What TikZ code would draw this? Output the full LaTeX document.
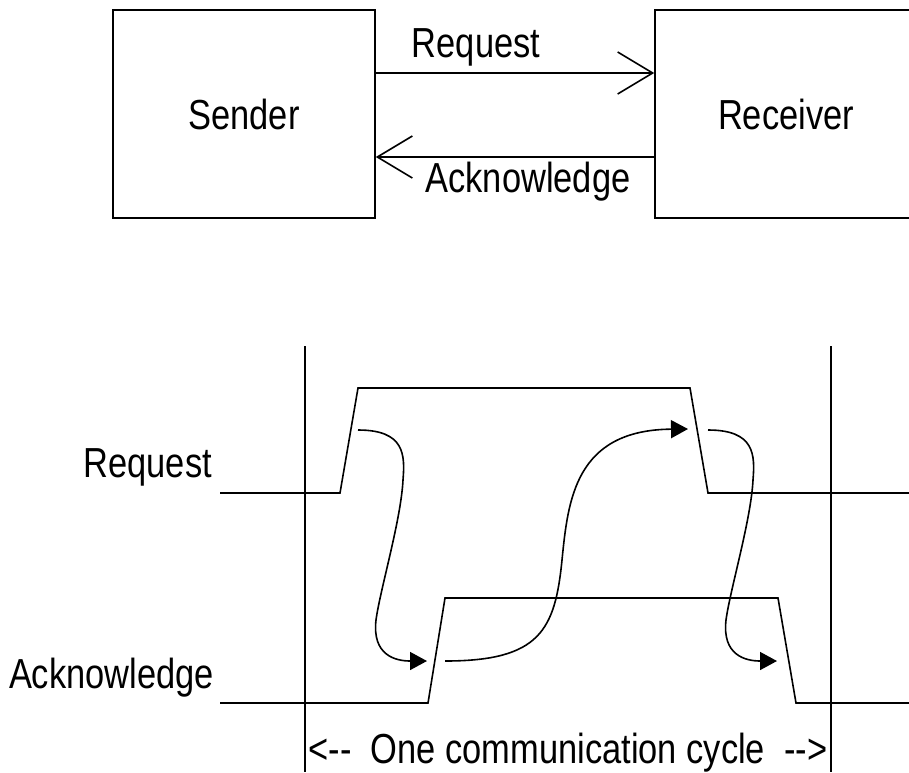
\documentclass[tikz,border=0pt]{standalone}
\usepackage{fontspec}
\setmainfont{Liberation Sans}[FakeStretch=0.82]
\usetikzlibrary{arrows.meta}

\begin{document}
\begin{tikzpicture}[x=1pt,y=-1pt,line width=1.6pt,
        every node/.style={font=\fontsize{42}{50}\selectfont},
        box/.style={draw,rectangle,minimum width=262pt,minimum height=208pt},
        barb/.style={-{Straight Barb[length=35pt,width=42pt]}},
        tri/.style={-{Triangle[length=17pt,width=18pt]}}]
        \clip (0,0) rectangle (909,772);
        % top: the two blocks
        \node[box](sender) at (244,114) {Sender};
        \node[box](receiver) at (786,114) {Receiver};
        \draw[barb]([yshift=41pt]sender.east)--([yshift=41pt]receiver.west);
        \draw[barb]([yshift=-43pt]receiver.west)--([yshift=-43pt]sender.east);
        \node[anchor=base](reqtop) at (476,57) {Request};
        \node[anchor=base](acktop) at (528,192) {Acknowledge};
        % bottom: timing
        \node[anchor=base east](reqlabel) at (216,477) {Request};
        \node[anchor=base east](acklabel) at (218,688) {Acknowledge};
        \draw(305,346)--(305,772);
        \draw(831,346)--(831,772);
        \draw(220,493)--(340,493)--(358,388)--(690,388)--(708,493)--(909,493);
        \draw(220,703)--(428,703)--(445,598)--(778,598)--(796,703)--(909,703);
        \coordinate(a1) at (358,430);
        \coordinate(a2) at (427,661);
        \coordinate(b1) at (445,661);
        \coordinate(b2) at (688,429);
        \coordinate(c1) at (708,430);
        \coordinate(c2) at (777,661);
        \draw[tri](a1) .. controls (405,430) and (405,455) .. (403,480)
                .. controls (401,520) and (380,590) .. (376,620)
                .. controls (372,655) and (395,661) .. (a2);
        \draw[tri](b1) .. controls (540,661) and (555,630) .. (562,560)
                .. controls (568,500) and (575,430) .. (b2);
        \draw[tri](c1) .. controls (755,430) and (755,455) .. (753,480)
                .. controls (751,520) and (730,590) .. (726,620)
                .. controls (722,655) and (745,661) .. (c2);
        \node[anchor=base](cycle) at (568,763) {<-{}-\ \ One communication cycle\ \ -{}->};
        \end{tikzpicture}
\end{document}
